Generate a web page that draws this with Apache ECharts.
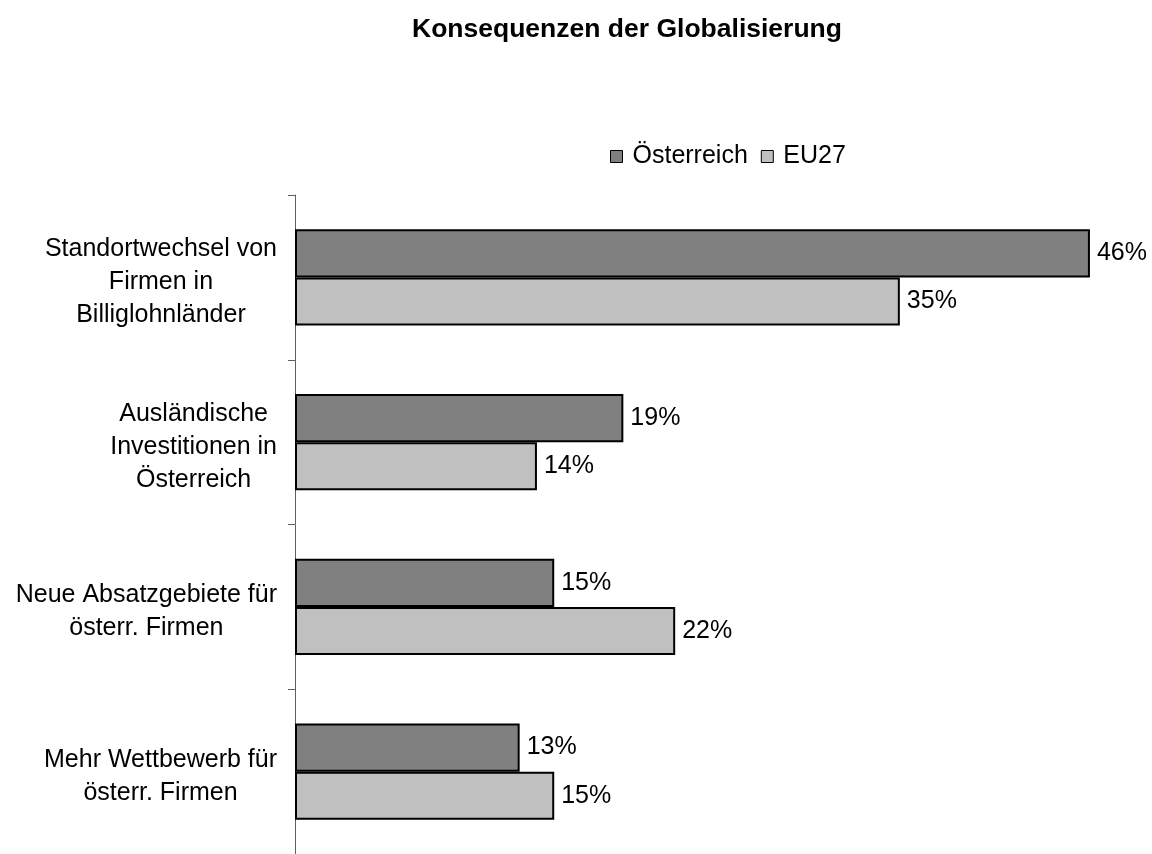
<!DOCTYPE html>
<html>
<head>
<meta charset="utf-8">
<script src="https://cdn.jsdelivr.net/npm/echarts@6/dist/echarts.min.js"></script>
<style>
html,body{margin:0;padding:0;background:#fff;}
#c{width:1152px;height:854px;}
</style>
</head>
<body>
<div id="c"></div>
<script>
const titleText = 'Konsequenzen der Globalisierung';
const categories = [
  'Standortwechsel von\nFirmen in\nBilliglohnländer',
  'Ausländische\nInvestitionen in\nÖsterreich',
  'Neue Absatzgebiete für\nösterr. Firmen',
  'Mehr Wettbewerb für\nösterr. Firmen'
];
const seriesNames = ['Österreich', 'EU27'];
const oesterreich = [46, 19, 15, 13];
const eu27 = [35, 14, 22, 15];

const FONT = '"Liberation Sans", Arial, sans-serif';
const chart = echarts.init(document.getElementById('c'), null, {renderer: 'canvas'});
const labelStyle = {
  show: true, position: 'right', distance: 7,
  formatter: p => p.value + '%',
  color: '#000', fontSize: 25, fontFamily: FONT
};
chart.setOption({
  backgroundColor: '#fff',
  animation: false,
  title: {
    text: titleText, left: 412, top: 16, padding: 0,
    textStyle: {fontSize: 26.5, fontWeight: 'bold', color: '#000', fontFamily: FONT}
  },
  legend: {
    data: seriesNames, left: 610, top: 144, padding: 0,
    icon: 'rect', itemWidth: 12, itemHeight: 12, itemGap: 13,
    itemStyle: {borderColor: '#000', borderWidth: 1},
    textStyle: {fontSize: 25, color: '#000', fontFamily: FONT, padding: [0, 0, 0, 5]}
  },
  grid: {left: 295, right: 27.5, top: 195, bottom: -5, containLabel: false},
  xAxis: {type: 'value', min: 0, max: 48, show: false},
  yAxis: {
    type: 'category', data: categories, inverse: true,
    axisLine: {show: true, lineStyle: {color: '#606060', width: 1}},
    axisTick: {show: true, length: 7, lineStyle: {color: '#606060', width: 1}},
    axisLabel: {
      margin: 18, color: '#000', fontSize: 25, fontFamily: FONT,
      padding: [10, 0, 0, 0],
      formatter: v => v.split('\n').map(l => '{c|' + l + '}').join('\n'),
      rich: {c: {align: 'center', fontSize: 25, lineHeight: 33, fontFamily: FONT, color: '#000'}}
    },
    splitLine: {show: false}
  },
  series: [
    {
      name: seriesNames[0], type: 'bar', data: oesterreich,
      barGap: '0%', barCategoryGap: '41.5%',
      itemStyle: {color: '#808080', borderColor: '#000', borderWidth: 2},
      label: labelStyle
    },
    {
      name: seriesNames[1], type: 'bar', data: eu27,
      barGap: '0%', barCategoryGap: '41.5%',
      itemStyle: {color: '#c0c0c0', borderColor: '#000', borderWidth: 2},
      label: labelStyle
    }
  ]
});
</script>
</body>
</html>
